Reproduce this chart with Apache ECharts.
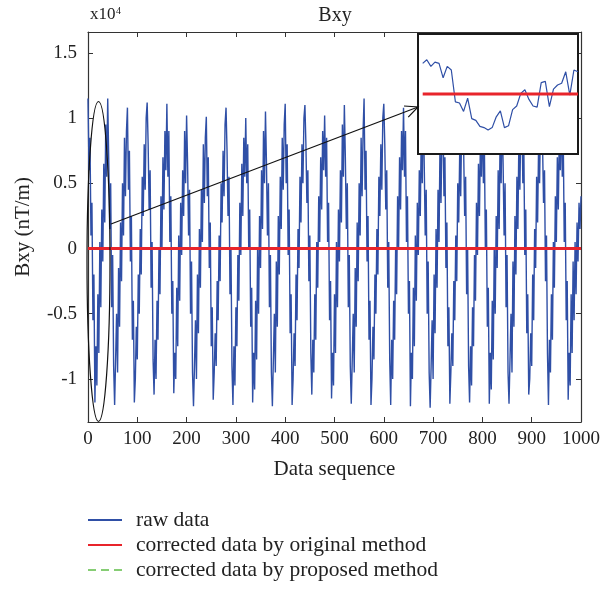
<!DOCTYPE html>
<html>
<head>
<meta charset="utf-8">
<script src="https://cdn.jsdelivr.net/npm/echarts@6/dist/echarts.min.js"></script>
<style>
html, body { margin: 0; padding: 0; background: #fff; }
#chart { width: 612px; height: 590px; }
</style>
</head>
<body>
<div id="chart"></div>
<script>
// raw Bxy (x10^4 nT/m), one value every 2 samples, samples 0..1000
const rawStep = 2
const rawData = [
  1.15, 0.6, 0.85, 0.1, 0.35, -0.55, -0.2, -1.18, -0.75, -1.05, -0.35, -0.8, 0.05, -0.45, 0.3, -0.1, 0.65, 0.2, 0.95, 0.55,
  1.15, 0.7, 0.15, 0.5, -0.45, -0.05, -0.9, -1.2, -0.85, -0.5, -0.95, -0.15, -0.6, 0.2, -0.25, 0.5, 0.1, 0.85, 0.4, 0.9,
  1.08, 0.45, 0.75, -0.1, 0.25, -0.7, -0.4, -1.18, -1.0, -0.6, -0.85, -0.2, -0.5, 0.15, -0.2, 0.55, 0.25, 0.8, 0.45, 1.0,
  1.12, 0.8, 0.3, 0.6, -0.3, 0.05, -0.85, -1.12, -0.7, -1.0, -0.4, -0.7, 0.0, -0.35, 0.4, 0.0, 0.7, 0.3, 0.9, 0.6,
  1.11, 0.55, 0.9, 0.05, 0.4, -0.5, -0.25, -1.11, -0.8, -1.0, -0.3, -0.75, 0.1, -0.4, 0.35, -0.05, 0.6, 0.25, 0.9, 0.5,
  1.02, 0.65, 0.1, 0.45, -0.5, -0.1, -0.95, -1.21, -0.9, -0.55, -1.0, -0.2, -0.65, 0.15, -0.3, 0.45, 0.05, 0.8, 0.35, 0.85,
  1.01, 0.4, 0.7, -0.15, 0.2, -0.75, -0.45, -1.16, -0.95, -0.65, -0.9, -0.25, -0.55, 0.1, -0.25, 0.5, 0.2, 0.75, 0.4, 0.95,
  1.08, 0.75, 0.25, 0.55, -0.35, 0.0, -0.9, -1.2, -0.75, -1.05, -0.45, -0.75, -0.05, -0.4, 0.35, -0.05, 0.65, 0.25, 0.85, 0.55,
  1.0, 0.5, 0.8, 0.0, 0.3, -0.6, -0.3, -1.18, -0.8, -1.08, -0.4, -0.85, 0.0, -0.5, 0.25, -0.15, 0.6, 0.15, 0.9, 0.5,
  1.05, 0.65, 0.1, 0.5, -0.45, -0.05, -0.95, -1.21, -0.85, -0.5, -0.95, -0.1, -0.6, 0.25, -0.2, 0.55, 0.15, 0.85, 0.45, 0.95,
  1.11, 0.5, 0.8, -0.05, 0.3, -0.65, -0.35, -1.2, -1.0, -0.65, -0.9, -0.2, -0.55, 0.15, -0.15, 0.55, 0.2, 0.8, 0.5, 1.0,
  1.1, 0.8, 0.35, 0.6, -0.25, 0.1, -0.8, -1.12, -0.7, -0.95, -0.35, -0.7, 0.05, -0.3, 0.4, 0.05, 0.7, 0.3, 0.9, 0.6,
  1.02, 0.55, 0.85, 0.05, 0.35, -0.55, -0.25, -1.15, -0.8, -1.05, -0.35, -0.8, 0.05, -0.45, 0.3, -0.1, 0.6, 0.2, 0.95, 0.55,
  1.1, 0.7, 0.15, 0.5, -0.45, -0.05, -0.9, -1.19, -0.85, -0.5, -0.95, -0.15, -0.6, 0.2, -0.25, 0.5, 0.1, 0.85, 0.4, 0.9,
  1.15, 0.45, 0.75, -0.1, 0.25, -0.7, -0.4, -1.2, -1.0, -0.6, -0.85, -0.2, -0.5, 0.15, -0.2, 0.55, 0.25, 0.8, 0.45, 1.0,
  1.11, 0.8, 0.3, 0.6, -0.3, 0.05, -0.85, -1.2, -0.7, -1.0, -0.4, -0.7, 0.0, -0.35, 0.4, 0.0, 0.7, 0.3, 0.9, 0.6,
  1.08, 0.55, 0.9, 0.05, 0.4, -0.5, -0.25, -1.21, -0.8, -1.0, -0.3, -0.75, 0.1, -0.4, 0.35, -0.05, 0.6, 0.25, 0.9, 0.5,
  1.1, 0.65, 0.1, 0.45, -0.5, -0.1, -0.95, -1.22, -0.9, -0.55, -1.0, -0.2, -0.65, 0.15, -0.3, 0.45, 0.05, 0.8, 0.35, 0.85,
  1.06, 0.4, 0.7, -0.15, 0.2, -0.75, -0.45, -1.19, -0.95, -0.65, -0.9, -0.25, -0.55, 0.1, -0.25, 0.5, 0.2, 0.75, 0.4, 0.95,
  1.12, 0.75, 0.25, 0.55, -0.35, 0.0, -0.9, -1.18, -0.75, -1.05, -0.45, -0.75, -0.05, -0.4, 0.35, -0.05, 0.65, 0.25, 0.85, 0.55,
  1.09, 0.5, 0.8, 0.0, 0.3, -0.6, -0.3, -1.19, -0.8, -1.08, -0.4, -0.85, 0.0, -0.5, 0.25, -0.15, 0.6, 0.15, 0.9, 0.5,
  1.05, 0.65, 0.1, 0.5, -0.45, -0.05, -0.95, -1.19, -0.85, -0.5, -0.95, -0.1, -0.6, 0.25, -0.2, 0.55, 0.15, 0.85, 0.45, 0.95,
  1.1, 0.5, 0.8, -0.05, 0.3, -0.65, -0.35, -1.12, -1.0, -0.65, -0.9, -0.2, -0.55, 0.15, -0.15, 0.55, 0.2, 0.8, 0.5, 1.0,
  1.12, 0.8, 0.35, 0.6, -0.25, 0.1, -0.8, -1.2, -0.7, -0.95, -0.35, -0.7, 0.05, -0.3, 0.4, 0.05, 0.7, 0.3, 0.9, 0.6,
  1.08, 0.55, 0.85, 0.05, 0.35, -0.55, -0.25, -1.16, -0.8, -1.05, -0.35, -0.8, -0.1, -0.55, 0.05, -0.35, 0.2, -0.1, 0.35, 0.15,
  0.4
]

// corrected results (both sit on zero)
const corrX = [0, 1000]
const corrOriginal = [0, 0]
const corrProposed = [0, 0]

// zoomed-in detail shown in the inset box
const insetRaw = [
  0.51, 0.57, 0.46, 0.53, 0.51, 0.27, 0.46, 0.40, -0.13, -0.15,
  -0.29, -0.07, -0.41, -0.44, -0.54, -0.56, -0.60, -0.56, -0.38, -0.28,
  -0.56, -0.53, -0.26, -0.20, 0.01, 0.07, -0.09, -0.20, -0.22, 0.19,
  0.21, -0.21, 0.08, 0.15, 0.18, 0.37, -0.02, 0.40, 0.37
]
const insetCorrX = [0, 38]
const insetCorr = [0, 0]

const xTicks = [0, 100, 200, 300, 400, 500, 600, 700, 800, 900, 1000]
const yTicks = [-1, -0.5, 0, 0.5, 1, 1.5]

const FONT = 'Liberation Serif'
const INK = '#222'
const AXIS = '#333'
const BLUE = '#2f4fa6'
const RED = '#e8242b'
const GREEN = '#86cd74'

const chart = echarts.init(document.getElementById('chart'))

const rawSeries = rawData.map((v, i) => [i * rawStep, v])
const pair = (xs, ys) => xs.map((x, i) => [x, ys[i]])

const baseX = {
  type: 'value',
  min: 0,
  max: 1000,
  interval: 100,
  gridIndex: 0,
  splitLine: { show: false },
  axisLine: { onZero: false, lineStyle: { color: AXIS, width: 1.2 } },
  axisTick: { inside: true, length: 5, lineStyle: { color: AXIS } }
}

const baseY = {
  type: 'value',
  min: -1.33,
  max: 1.66,
  gridIndex: 0,
  splitLine: { show: false },
  axisLine: { onZero: false, lineStyle: { color: AXIS, width: 1.2 } },
  axisTick: { inside: true, length: 5, customValues: yTicks, lineStyle: { color: AXIS } }
}

const option = {
  animation: false,
  backgroundColor: '#fff',
  grid: [
    { left: 88, top: 32, width: 493, height: 390 },
    {
      left: 418, top: 34, width: 160, height: 120,
      show: true, backgroundColor: '#fff', borderColor: '#1a1a1a', borderWidth: 2, z: 10
    }
  ],
  xAxis: [
    {
      ...baseX,
      position: 'bottom',
      axisLabel: {
        color: INK, fontFamily: FONT, fontSize: 19, margin: 8,
        customValues: xTicks, formatter: (v) => String(v)
      },
      name: 'Data sequence',
      nameLocation: 'middle',
      nameGap: 37,
      nameTextStyle: { color: INK, fontFamily: FONT, fontSize: 21 }
    },
    { ...baseX, position: 'top', axisLabel: { show: false } },
    { type: 'value', gridIndex: 1, min: -1.15, max: 38, show: false }
  ],
  yAxis: [
    {
      ...baseY,
      position: 'left',
      axisLabel: { color: INK, fontFamily: FONT, fontSize: 19, margin: 11, customValues: yTicks },
      name: 'Bxy (nT/m)',
      nameLocation: 'middle',
      nameGap: 54,
      nameTextStyle: { color: INK, fontFamily: FONT, fontSize: 21 }
    },
    { ...baseY, position: 'right', axisLabel: { show: false } },
    { type: 'value', gridIndex: 1, min: -1, max: 1, show: false }
  ],
  legend: {
    orient: 'vertical',
    left: 87,
    top: 508,
    padding: 0,
    itemWidth: 34,
    itemHeight: 14,
    itemGap: 1,
    itemStyle: { opacity: 0 },
    data: ['raw data', 'corrected data by original method', 'corrected data by proposed method'],
    textStyle: { color: INK, fontFamily: FONT, fontSize: 21.5, lineHeight: 24, padding: [0, 0, 0, 9] }
  },
  series: [
    {
      name: 'raw data',
      type: 'line',
      xAxisIndex: 0,
      yAxisIndex: 0,
      symbol: 'none',
      data: rawSeries,
      lineStyle: { color: BLUE, width: 1.4 },
      itemStyle: { color: BLUE },
      z: 2
    },
    {
      name: 'corrected data by proposed method',
      type: 'line',
      xAxisIndex: 0,
      yAxisIndex: 0,
      symbol: 'none',
      data: pair(corrX, corrProposed),
      lineStyle: { color: GREEN, width: 1.6, type: [8, 5] },
      itemStyle: { color: GREEN },
      z: 3
    },
    {
      name: 'corrected data by original method',
      type: 'line',
      xAxisIndex: 0,
      yAxisIndex: 0,
      symbol: 'none',
      data: pair(corrX, corrOriginal),
      lineStyle: { color: RED, width: 3 },
      itemStyle: { color: RED },
      z: 4
    },
    {
      name: 'inset raw',
      type: 'line',
      xAxisIndex: 2,
      yAxisIndex: 2,
      symbol: 'none',
      data: insetRaw.map((v, i) => [i, v]),
      lineStyle: { color: BLUE, width: 1.2 },
      z: 12
    },
    {
      name: 'inset corrected',
      type: 'line',
      xAxisIndex: 2,
      yAxisIndex: 2,
      symbol: 'none',
      data: pair(insetCorrX, insetCorr),
      lineStyle: { color: RED, width: 3 },
      z: 13
    }
  ]
}

chart.setOption(option)

// annotations: ellipse around the zoomed stretch and the arrow to the inset
const tail = [111, 224]
const tip = [418, 107]
const dx = tail[0] - tip[0]
const dy = tail[1] - tip[1]
const len = Math.hypot(dx, dy)
const ux = dx / len
const uy = dy / len
const barb = (ang, l) => [
  tip[0] + l * (ux * Math.cos(ang) - uy * Math.sin(ang)),
  tip[1] + l * (ux * Math.sin(ang) + uy * Math.cos(ang))
]
const a = 25 * Math.PI / 180

chart.setOption({
  graphic: [
    {
      type: 'ellipse',
      shape: { cx: 98.5, cy: 261.5, rx: 11.5, ry: 160 },
      style: { fill: 'none', stroke: '#111', lineWidth: 1.2 },
      z: 20
    },
    {
      type: 'line',
      shape: { x1: tail[0], y1: tail[1], x2: tip[0], y2: tip[1] },
      style: { stroke: '#111', lineWidth: 1.2 },
      z: 20
    },
    {
      type: 'polyline',
      shape: { points: [barb(a, 14), tip, barb(-a, 14)] },
      style: { fill: 'none', stroke: '#111', lineWidth: 1.2 },
      z: 20
    },
    {
      type: 'text',
      x: 335, y: 15.5,
      style: { text: 'Bxy', fill: INK, fontFamily: FONT, fontSize: 20, align: 'center', verticalAlign: 'middle' },
      z: 20
    },
    {
      type: 'text',
      x: 90, y: 15,
      style: { text: 'x10', fill: INK, fontFamily: FONT, fontSize: 17, align: 'left', verticalAlign: 'middle' },
      z: 20
    },
    {
      type: 'text',
      x: 116, y: 11,
      style: { text: '4', fill: INK, fontFamily: FONT, fontSize: 10, align: 'left', verticalAlign: 'middle' },
      z: 20
    }
  ]
})
</script>
</body>
</html>
